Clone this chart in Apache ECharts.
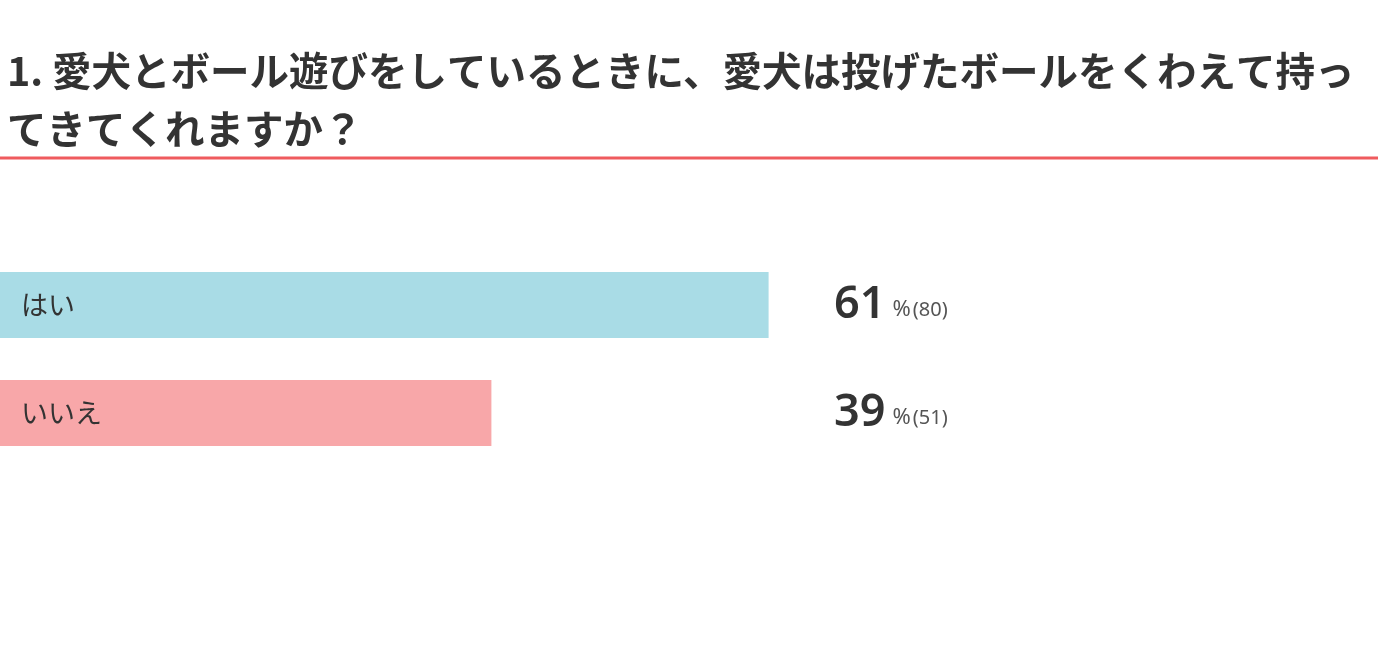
<!DOCTYPE html>
<html><head><meta charset="utf-8">
<script src="https://cdn.jsdelivr.net/npm/echarts@6/dist/echarts.min.js"></script>
<style>html,body{margin:0;padding:0;background:#fff}#c{width:1398px;height:654px}</style>
</head><body><div id="c"></div>
<script>
const titleText = '1. 愛犬とボール遊びをしているときに、愛犬は投げたボールをくわえて持っ\nてきてくれますか？';
const categories = ['はい', 'いいえ'];
const percents = [61, 39];
const counts = [80, 51];
const colors = ['#a9dce6', '#f8a7a9'];

const chart = echarts.init(document.getElementById('c'));
chart.setOption({
  animation: false,
  backgroundColor: '#fff',
  title: {
    text: titleText,
    left: 2, top: 37,
    textStyle: { fontFamily: 'Noto Sans CJK JP', fontSize: 39.5, fontWeight: 'bold', color: '#333', lineHeight: 58 }
  },
  graphic: [{
    type: 'line', shape: { x1: 0, y1: 158, x2: 1378, y2: 158 },
    style: { stroke: '#ef5b5e', lineWidth: 3 }
  }],
  grid: { left: 0, top: 251, width: 1260, height: 216 },
  xAxis: { type: 'value', min: 0, max: 100, show: false },
  yAxis: {
    type: 'category', data: categories, inverse: true, z: 10,
    axisLine: { show: false }, axisTick: { show: false },
    axisLabel: { inside: true, margin: 21, fontSize: 27, color: '#333', fontFamily: 'Noto Sans CJK JP', verticalAlign: 'middle', padding: [0,0,20,0] }
  },
  series: [{
    type: 'bar', barWidth: 66,
    data: percents.map((v, i) => ({ value: v, itemStyle: { color: colors[i] } })),
    label: {
      show: true, position: [834, '50%'], verticalAlign: 'middle', align: 'left',
      formatter: p => '{n|' + p.value + '}{p|%}{c|(' + counts[p.dataIndex] + ')}',
      rich: {
        n: { fontSize: 45, fontWeight: 600, color: '#333', fontFamily: 'Noto Sans', padding: [0, 7, 0, 0] },
        p: { fontSize: 22, color: '#555', fontFamily: 'Noto Sans', padding: [10, 2, 0, 0] },
        c: { fontSize: 20, color: '#555', fontFamily: 'Noto Sans', padding: [10, 0, 0, 0] }
      }
    }
  }]
});
</script></body></html>
